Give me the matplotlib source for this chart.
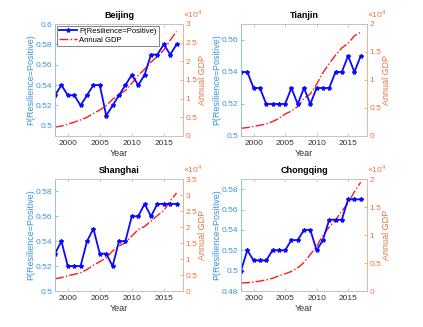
import matplotlib
matplotlib.use("Agg")
import matplotlib.pyplot as plt
import matplotlib.transforms as mtransforms
import numpy as np
from matplotlib.ticker import MultipleLocator, FuncFormatter

years = list(range(1998, 2018))

cities = ["Beijing", "Tianjin", "Shanghai", "Chongqing"]

p_beijing = [0.53, 0.54, 0.53, 0.53, 0.52, 0.53, 0.54, 0.54, 0.51, 0.52,
             0.53, 0.54, 0.55, 0.54, 0.55, 0.57, 0.57, 0.58, 0.57, 0.58]
p_tianjin = [0.54, 0.54, 0.53, 0.53, 0.52, 0.52, 0.52, 0.52, 0.53, 0.52,
             0.53, 0.52, 0.53, 0.53, 0.53, 0.54, 0.54, 0.55, 0.54, 0.55]
p_shanghai = [0.53, 0.54, 0.52, 0.52, 0.52, 0.54, 0.55, 0.53, 0.53, 0.52,
              0.54, 0.54, 0.56, 0.56, 0.57, 0.56, 0.57, 0.57, 0.57, 0.57]
p_chongqing = [0.50, 0.52, 0.51, 0.51, 0.51, 0.52, 0.52, 0.52, 0.53, 0.53,
               0.54, 0.54, 0.52, 0.53, 0.55, 0.55, 0.55, 0.57, 0.57, 0.57]

gdp_beijing = [2377, 2679, 3161, 3708, 4315, 5007, 6033, 6970, 8118, 9847,
               11115, 12153, 14114, 16252, 17879, 19801, 21331, 23015, 25669, 28015]
gdp_tianjin = [1375, 1500, 1701, 1919, 2151, 2578, 3111, 3906, 4463, 5253,
               6719, 7522, 9224, 11307, 12894, 14442, 15727, 16538, 17885, 18549]
gdp_shanghai = [3801, 4188, 4771, 5210, 5741, 6694, 8073, 9154, 10366, 12494,
                14070, 15046, 17166, 19196, 20182, 21818, 23568, 25123, 28179, 30633]
gdp_chongqing = [1440, 1492, 1603, 1766, 1990, 2273, 2693, 3070, 3492, 4123,
                 5097, 6530, 7926, 10011, 11410, 12657, 14263, 15717, 17741, 19425]

p_all = [p_beijing, p_tianjin, p_shanghai, p_chongqing]
gdp_all = [gdp_beijing, gdp_tianjin, gdp_shanghai, gdp_chongqing]
left_lims = [(0.49, 0.60), (0.50, 0.57), (0.50, 0.59), (0.48, 0.59)]
right_lims = [(0, 30000), (0, 20000), (0, 35000), (0, 20000)]

positions = [
    [55/423, 1-136/327, 128/423, 112/327],
    [241/423, 1-136/327, 126/423, 112/327],
    [55/423, 1-291/327, 128/423, 112/327],
    [241/423, 1-291/327, 126/423, 112/327],
]

LBLUE = "#3a93d8"
ORANGE = "#e8743e"
GRAY = "#333333"
fs = 6


def fmt_num(v):
    s = ("%.2f" % v).rstrip('0').rstrip('.')
    return "0" if s in ("", "-0") else s


plt.rcParams['font.family'] = ['Liberation Sans', 'DejaVu Sans']
plt.rcParams['mathtext.fontset'] = 'custom'
plt.rcParams['mathtext.rm'] = 'Liberation Sans'
fig = plt.figure(figsize=(4.23, 3.27), dpi=100)

for i in range(4):
    ax = fig.add_axes(positions[i])
    axr = ax.twinx()
    ax.set_zorder(axr.get_zorder() + 1)
    ax.patch.set_visible(False)

    l1, = ax.plot(years, p_all[i], color="#0a0aff", marker="*", markersize=3,
                  linewidth=1.3, label="P(Resilience=Positive)")
    l2, = axr.plot(years, gdp_all[i], color="#ff1a1a", linestyle="-.",
                   linewidth=1.0, label="Annual GDP")

    ax.set_xlim(1998, 2018)
    ax.set_ylim(*left_lims[i])
    axr.set_ylim(*right_lims[i])
    ax.xaxis.set_major_locator(MultipleLocator(5))
    ax.yaxis.set_major_locator(MultipleLocator(0.02))
    ax.yaxis.set_major_formatter(FuncFormatter(lambda v, p: fmt_num(v)))
    axr.yaxis.set_major_locator(MultipleLocator(5000))
    axr.yaxis.set_major_formatter(FuncFormatter(lambda v, p: fmt_num(v / 1e4)))
    off = mtransforms.offset_copy(axr.transAxes, fig=fig, x=0, y=3, units='points')
    axr.text(1.0, 1.0, "×10$^{4}$", transform=off, ha='left', va='bottom',
             fontsize=fs, color=ORANGE)

    ax.tick_params(axis='x', direction='in', length=2, width=0.4, labelsize=fs,
                   colors=GRAY, top=True, pad=3)
    ax.tick_params(axis='x', which='both', color="#aaaaaa")
    ax.tick_params(axis='y', direction='in', length=2, width=0.4, labelsize=fs,
                   colors=LBLUE, pad=2)
    axr.tick_params(axis='y', direction='in', length=2, width=0.4, labelsize=fs,
                    colors=ORANGE, pad=2)
    for a in (ax, axr):
        a.spines['top'].set_color("#c4c4c4")
        a.spines['bottom'].set_color("#c4c4c4")
        for s in a.spines.values():
            s.set_linewidth(0.6)
    ax.spines['left'].set_color("#8fc1ea")
    axr.spines['left'].set_color("#8fc1ea")
    ax.spines['right'].set_color("#f2b08f")
    axr.spines['right'].set_color("#f2b08f")

    ax.set_ylabel("P(Resilience=Positive)", color=LBLUE, fontsize=6.5, labelpad=0.5)
    axr.set_ylabel("Annual GDP", color=ORANGE, fontsize=6.5, labelpad=0.5)
    ax.set_xlabel("Year", color=GRAY, fontsize=6.5, labelpad=1)
    ax.set_title(cities[i], fontsize=6.5, fontweight="bold", pad=4)

    if i == 0:
        leg = ax.legend([l1, l2], ["P(Resilience=Positive)", "Annual GDP"],
                        loc="upper left", fontsize=5.5, frameon=True, fancybox=False,
                        borderpad=0.25, labelspacing=0.15, handlelength=2.4,
                        handletextpad=0.3, borderaxespad=0.25)
        leg.get_frame().set_edgecolor("#262626")
        leg.get_frame().set_linewidth(0.5)

fig.savefig("out.png", dpi=100)
